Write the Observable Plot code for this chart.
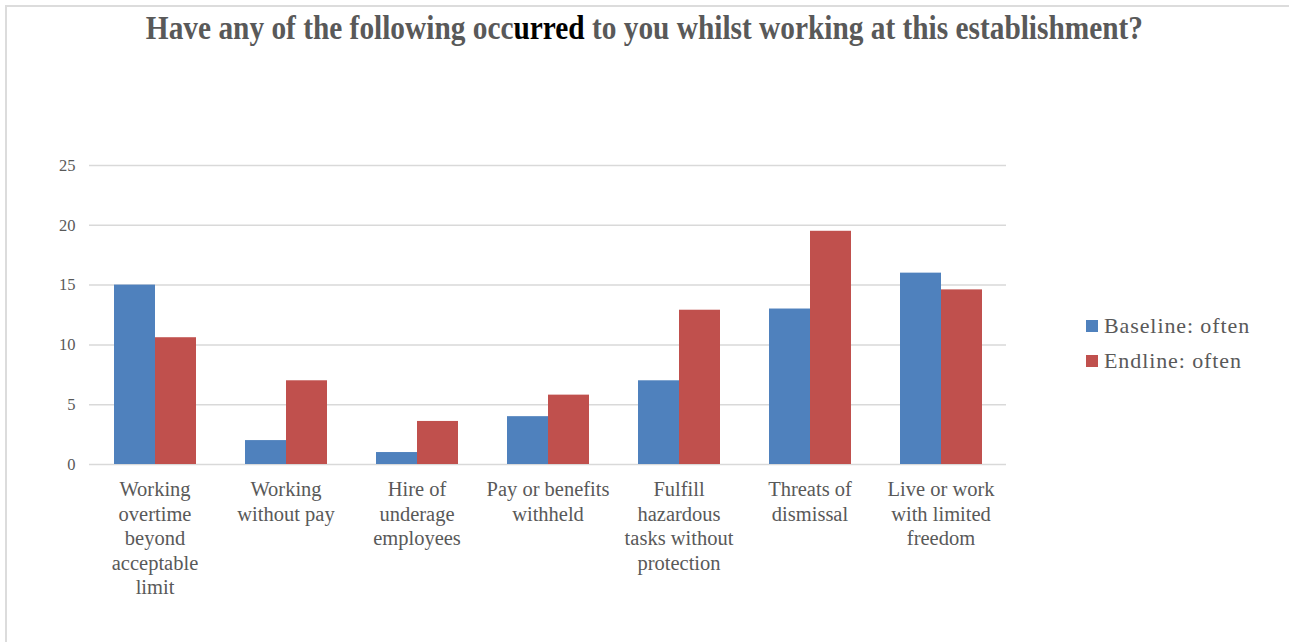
<!DOCTYPE html>
<html>
<head>
<meta charset="utf-8">
<script src="https://cdn.jsdelivr.net/npm/d3@7"></script>
<script src="https://cdn.jsdelivr.net/npm/@observablehq/plot@0.6"></script>
<style>
  html, body { margin: 0; padding: 0; background: #fff; }
  #wrap { position: relative; width: 1289px; height: 642px; overflow: hidden; }
  #frame { position: absolute; left: 5px; top: 5px; width: 1300px; height: 650px;
           border-left: 2px solid #dcdcdc; border-top: 2px solid #dcdcdc; box-sizing: border-box; }
  #title { position: absolute; left: 0; width: 1289px; top: 9px; text-align: center;
           font-family: "Liberation Serif", "Times New Roman", serif; font-weight: bold;
           font-size: 34px; color: #595959; white-space: nowrap;
           transform: scaleX(0.863); transform-origin: 644px 0; }
  #title b { color: #000; }
  #chart { position: absolute; left: 0; top: 0; }
  #legend { position: absolute; left: 1086px; top: 308px; font-family: "Liberation Serif", Cambria, serif;
            font-size: 22px; letter-spacing: 0.9px; color: #595959; }
  #legend .row { display: flex; align-items: center; height: 35px; }
  #legend .sw { width: 12px; height: 12px; margin-right: 6px; }
</style>
</head>
<body>
<div id="wrap">
  <div id="frame"></div>
  <div id="chart"></div>
  <div id="title">Have any of the following occ<b>urred</b> to you whilst working at this establishment?</div>
  <div id="legend"></div>
</div>
<script>
const categories = [
  "Working\novertime\nbeyond\nacceptable\nlimit",
  "Working\nwithout pay",
  "Hire of\nunderage\nemployees",
  "Pay or benefits\nwithheld",
  "Fulfill\nhazardous\ntasks without\nprotection",
  "Threats of\ndismissal",
  "Live or work\nwith limited\nfreedom"
];
const seriesNames = ["Baseline: often", "Endline: often"];
const baseline = [15, 2, 1, 4, 7, 13, 16];
const endline = [10.6, 7, 3.6, 5.8, 12.9, 19.5, 14.6];
const colors = ["#4F81BD", "#C0504D"];
const yTicks = [0, 5, 10, 15, 20, 25];

const data = [];
categories.forEach((c, i) => {
  data.push({category: c, series: seriesNames[0], value: baseline[i]});
  data.push({category: c, series: seriesNames[1], value: endline[i]});
});

const chart = Plot.plot({
  width: 1289,
  height: 642,
  marginLeft: 88,
  marginRight: 283,
  marginTop: 165,
  marginBottom: 178,
  style: {background: "transparent", fontFamily: "Liberation Serif, serif"},
  fx: {domain: categories, padding: 0, label: null},
  x: {domain: seriesNames, paddingInner: 0, paddingOuter: 0.56, axis: null},
  y: {domain: [0, 25], ticks: yTicks, label: null},
  color: {domain: seriesNames, range: colors},
  marks: [
    Plot.ruleY(yTicks, {stroke: "#d9d9d9", strokeWidth: 1.5}),
    Plot.barY(data, {fx: "category", x: "series", y: "value", fill: "series", inset: 0}),
    Plot.axisY({ticks: yTicks, tickSize: 0, tickPadding: 14, fontSize: 16.5, fill: "#595959",
                fontFamily: "Liberation Serif, serif", label: null, style: {letterSpacing: "0.8px"}}),
    Plot.axisFx({tickSize: 0, tickPadding: 14, fontSize: 20.5, fill: "#595959", lineHeight: 1.2,
                 fontFamily: "Liberation Serif, serif", label: null, anchor: "bottom"})
  ]
});
document.getElementById("chart").appendChild(chart);

const legend = document.getElementById("legend");
seriesNames.forEach((s, i) => {
  const row = document.createElement("div");
  row.className = "row";
  const sw = document.createElement("div");
  sw.className = "sw";
  sw.style.background = colors[i];
  const t = document.createElement("span");
  t.textContent = s;
  row.appendChild(sw); row.appendChild(t);
  legend.appendChild(row);
});
</script>
</body>
</html>
